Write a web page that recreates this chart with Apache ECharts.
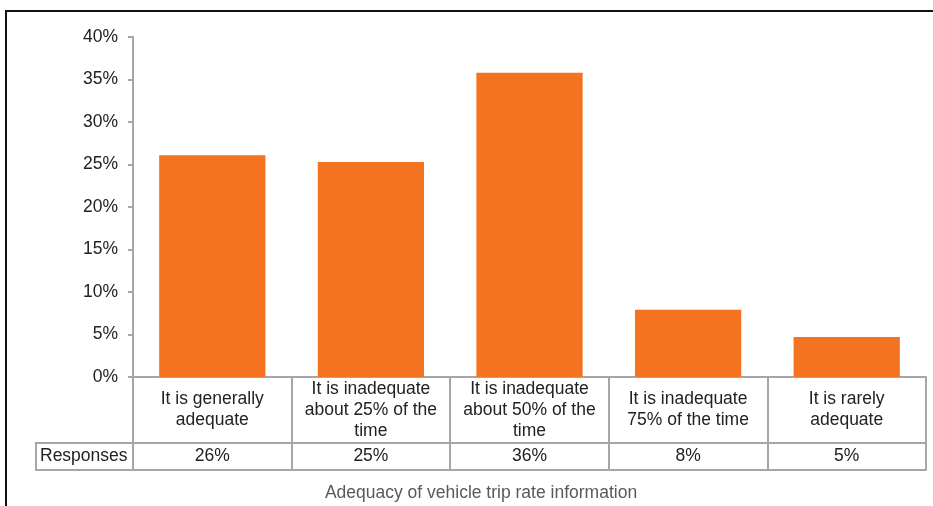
<!DOCTYPE html>
<html>
<head>
<meta charset="utf-8">
<script src="https://cdn.jsdelivr.net/npm/echarts@6/dist/echarts.min.js"></script>
<style>
  html, body { margin: 0; padding: 0; background: #ffffff; }
  #chart { width: 933px; height: 506px; }
</style>
</head>
<body>
<div id="chart"></div>
<script>
// ---- data ----
const categories = [
  'It is generally\nadequate',
  'It is inadequate\nabout 25% of the\ntime',
  'It is inadequate\nabout 50% of the\ntime',
  'It is inadequate\n75% of the time',
  'It is rarely\nadequate'
];
const responses = [26.1, 25.3, 35.8, 7.9, 4.7];
const seriesName = 'Responses';
const axisTitle = 'Adequacy of vehicle trip rate information';
const yMin = 0, yMax = 40, yStep = 5;

// ---- styles ----
const FONT = '"Liberation Sans", Arial, sans-serif';
const FS = 17.5;
const TEXT = '#222222';
const LINE = '#a6a6a6';
const ROW1 = 66, ROW2 = 27;   // table row heights
const HEADER_W = 97;

const chart = echarts.init(document.getElementById('chart'), null, { renderer: 'canvas' });

const option = {
  animation: false,
  backgroundColor: '#ffffff',
  textStyle: { fontFamily: FONT },
  grid: { left: 133, right: 7, top: 37, bottom: 129, containLabel: false },
  yAxis: {
    type: 'value', min: yMin, max: yMax, interval: yStep,
    axisLine: { show: true, lineStyle: { color: LINE, width: 2 } },
    axisTick: { show: true, length: 5, lineStyle: { color: LINE, width: 2 } },
    axisLabel: { formatter: '{value}%', margin: 15, fontSize: FS, color: TEXT, fontFamily: FONT },
    splitLine: { show: false }
  },
  xAxis: [
    {
      type: 'category', data: categories, position: 'bottom',
      axisLine: { show: true, lineStyle: { color: LINE, width: 2 } },
      axisTick: { show: true, interval: 0, length: ROW1 + ROW2, lineStyle: { color: LINE, width: 2 } },
      axisLabel: { interval: 0, margin: ROW1 / 2, verticalAlign: 'middle', lineHeight: 21,
                   fontSize: FS, color: TEXT, fontFamily: FONT, align: 'center' }
    },
    {
      type: 'category', data: categories, position: 'bottom', offset: ROW1,
      axisLine: { show: true, lineStyle: { color: LINE, width: 2 } },
      axisTick: { show: false },
      axisLabel: { interval: 0, margin: ROW2 / 2, verticalAlign: 'middle', fontSize: FS,
                   color: TEXT, fontFamily: FONT,
                   formatter: (v, i) => Math.round(responses[i]) + '%' }
    },
    {
      type: 'category', data: categories, position: 'bottom', offset: ROW1 + ROW2,
      axisLine: { show: true, lineStyle: { color: LINE, width: 2 } },
      axisTick: { show: false },
      axisLabel: { show: false }
    }
  ],
  series: [{
    name: seriesName, type: 'bar', xAxisIndex: 0, yAxisIndex: 0,
    data: responses, barCategoryGap: '33%',
    itemStyle: { color: '#F37321' }
  }]
};
chart.setOption(option);

// table header cell, axis title and frame placed from the axis geometry
const x0 = chart.convertToPixel({ xAxisIndex: 0 }, 0);
const x4 = chart.convertToPixel({ xAxisIndex: 0 }, categories.length - 1);
const band = (x4 - x0) / (categories.length - 1);
const leftEdge = x0 - band / 2;
const rightEdge = x4 + band / 2;
const baseY = chart.convertToPixel({ yAxisIndex: 0 }, yMin);
const tableLeft = leftEdge - HEADER_W;

chart.setOption({
  graphic: [
    { type: 'rect', shape: { x: 6, y: 11, width: 960, height: 560 },
      style: { fill: null, stroke: '#111111', lineWidth: 2 }, silent: true },
    { type: 'rect', shape: { x: tableLeft, y: baseY + ROW1, width: HEADER_W, height: ROW2 },
      style: { fill: null, stroke: LINE, lineWidth: 2 }, silent: true },
    { type: 'text', x: tableLeft + 4, y: baseY + ROW1 + ROW2 / 2,
      style: { text: seriesName, font: FS + 'px ' + FONT, fill: TEXT, textVerticalAlign: 'middle', textAlign: 'left' } },
    { type: 'text', x: (tableLeft + rightEdge) / 2, y: baseY + ROW1 + ROW2 + 23,
      style: { text: axisTitle, font: FS + 'px ' + FONT, fill: '#595959', textAlign: 'center', textVerticalAlign: 'middle' } }
  ]
});
</script>
</body>
</html>
